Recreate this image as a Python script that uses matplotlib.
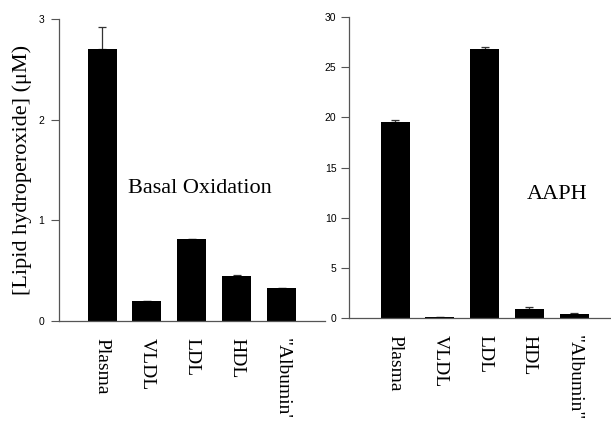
import numpy as np
import matplotlib
matplotlib.use("Agg")
import matplotlib.pyplot as plt

categories = ["Plasma", "VLDL", "LDL", "HDL", '"Albumin\'']
categories_r = ["Plasma", "VLDL", "LDL", "HDL", '"Albumin"']

# basal oxidation (uM)
basal = [2.70, 0.20, 0.81, 0.45, 0.33]
basal_err = [0.22, 0.0, 0.0, 0.01, 0.0]

# AAPH oxidation (uM)
aaph = [19.5, 0.1, 26.8, 0.95, 0.42]
aaph_err = [0.25, 0.0, 0.2, 0.2, 0.1]

serif = "Liberation Serif"
sans = "Liberation Sans"

fig = plt.figure(figsize=(6.11, 4.22), dpi=100)
ax1 = fig.add_axes([0.0966, 0.2393, 0.4353, 0.7156])
ax2 = fig.add_axes([0.5712, 0.2457, 0.427, 0.7147])


def style(ax, vals, errs, labels, ymax, yticks, xlim, ypad):
    x = np.arange(len(vals))
    ax.bar(x, vals, width=0.645, color="black", zorder=2)
    ax.errorbar(x, vals, yerr=[np.zeros(len(errs)), errs], fmt="none",
                ecolor="#333333", elinewidth=0.9, capsize=3, capthick=0.9, zorder=1)
    ax.set_ylim(0, ymax)
    ax.set_xlim(*xlim)
    ax.set_yticks(yticks)
    ax.set_yticklabels([str(t) for t in yticks], fontfamily=sans, fontsize=7.5)
    ax.set_xticks(x)
    ax.set_xticklabels(labels, rotation=270, fontfamily=serif, fontsize=14,
                       va="top", ha="center")
    ax.tick_params(axis="x", length=0, pad=12)
    ax.tick_params(axis="y", length=6, width=0.8, color="#555555", pad=ypad)
    for s in ["top", "right"]:
        ax.spines[s].set_visible(False)
    for s in ["left", "bottom"]:
        ax.spines[s].set_color("#555555")
        ax.spines[s].set_linewidth(0.9)


style(ax1, basal, basal_err, categories, 3, [0, 1, 2, 3], (-0.956, 4.96), 4.5)
style(ax2, aaph, aaph_err, categories_r, 30, [0, 5, 10, 15, 20, 25, 30], (-1.03, 4.8), 3)

ax1.set_ylabel("[Lipid hydroperoxide] (\u03bcM)", fontfamily=serif, fontsize=16, labelpad=5)
ax1.text(0.58, 1.32, "Basal Oxidation", fontfamily=serif, fontsize=16, va="center", ha="left")
ax2.text(2.95, 12.3, "AAPH", fontfamily=serif, fontsize=16, va="center", ha="left")

fig.savefig("out.png", dpi=100)
